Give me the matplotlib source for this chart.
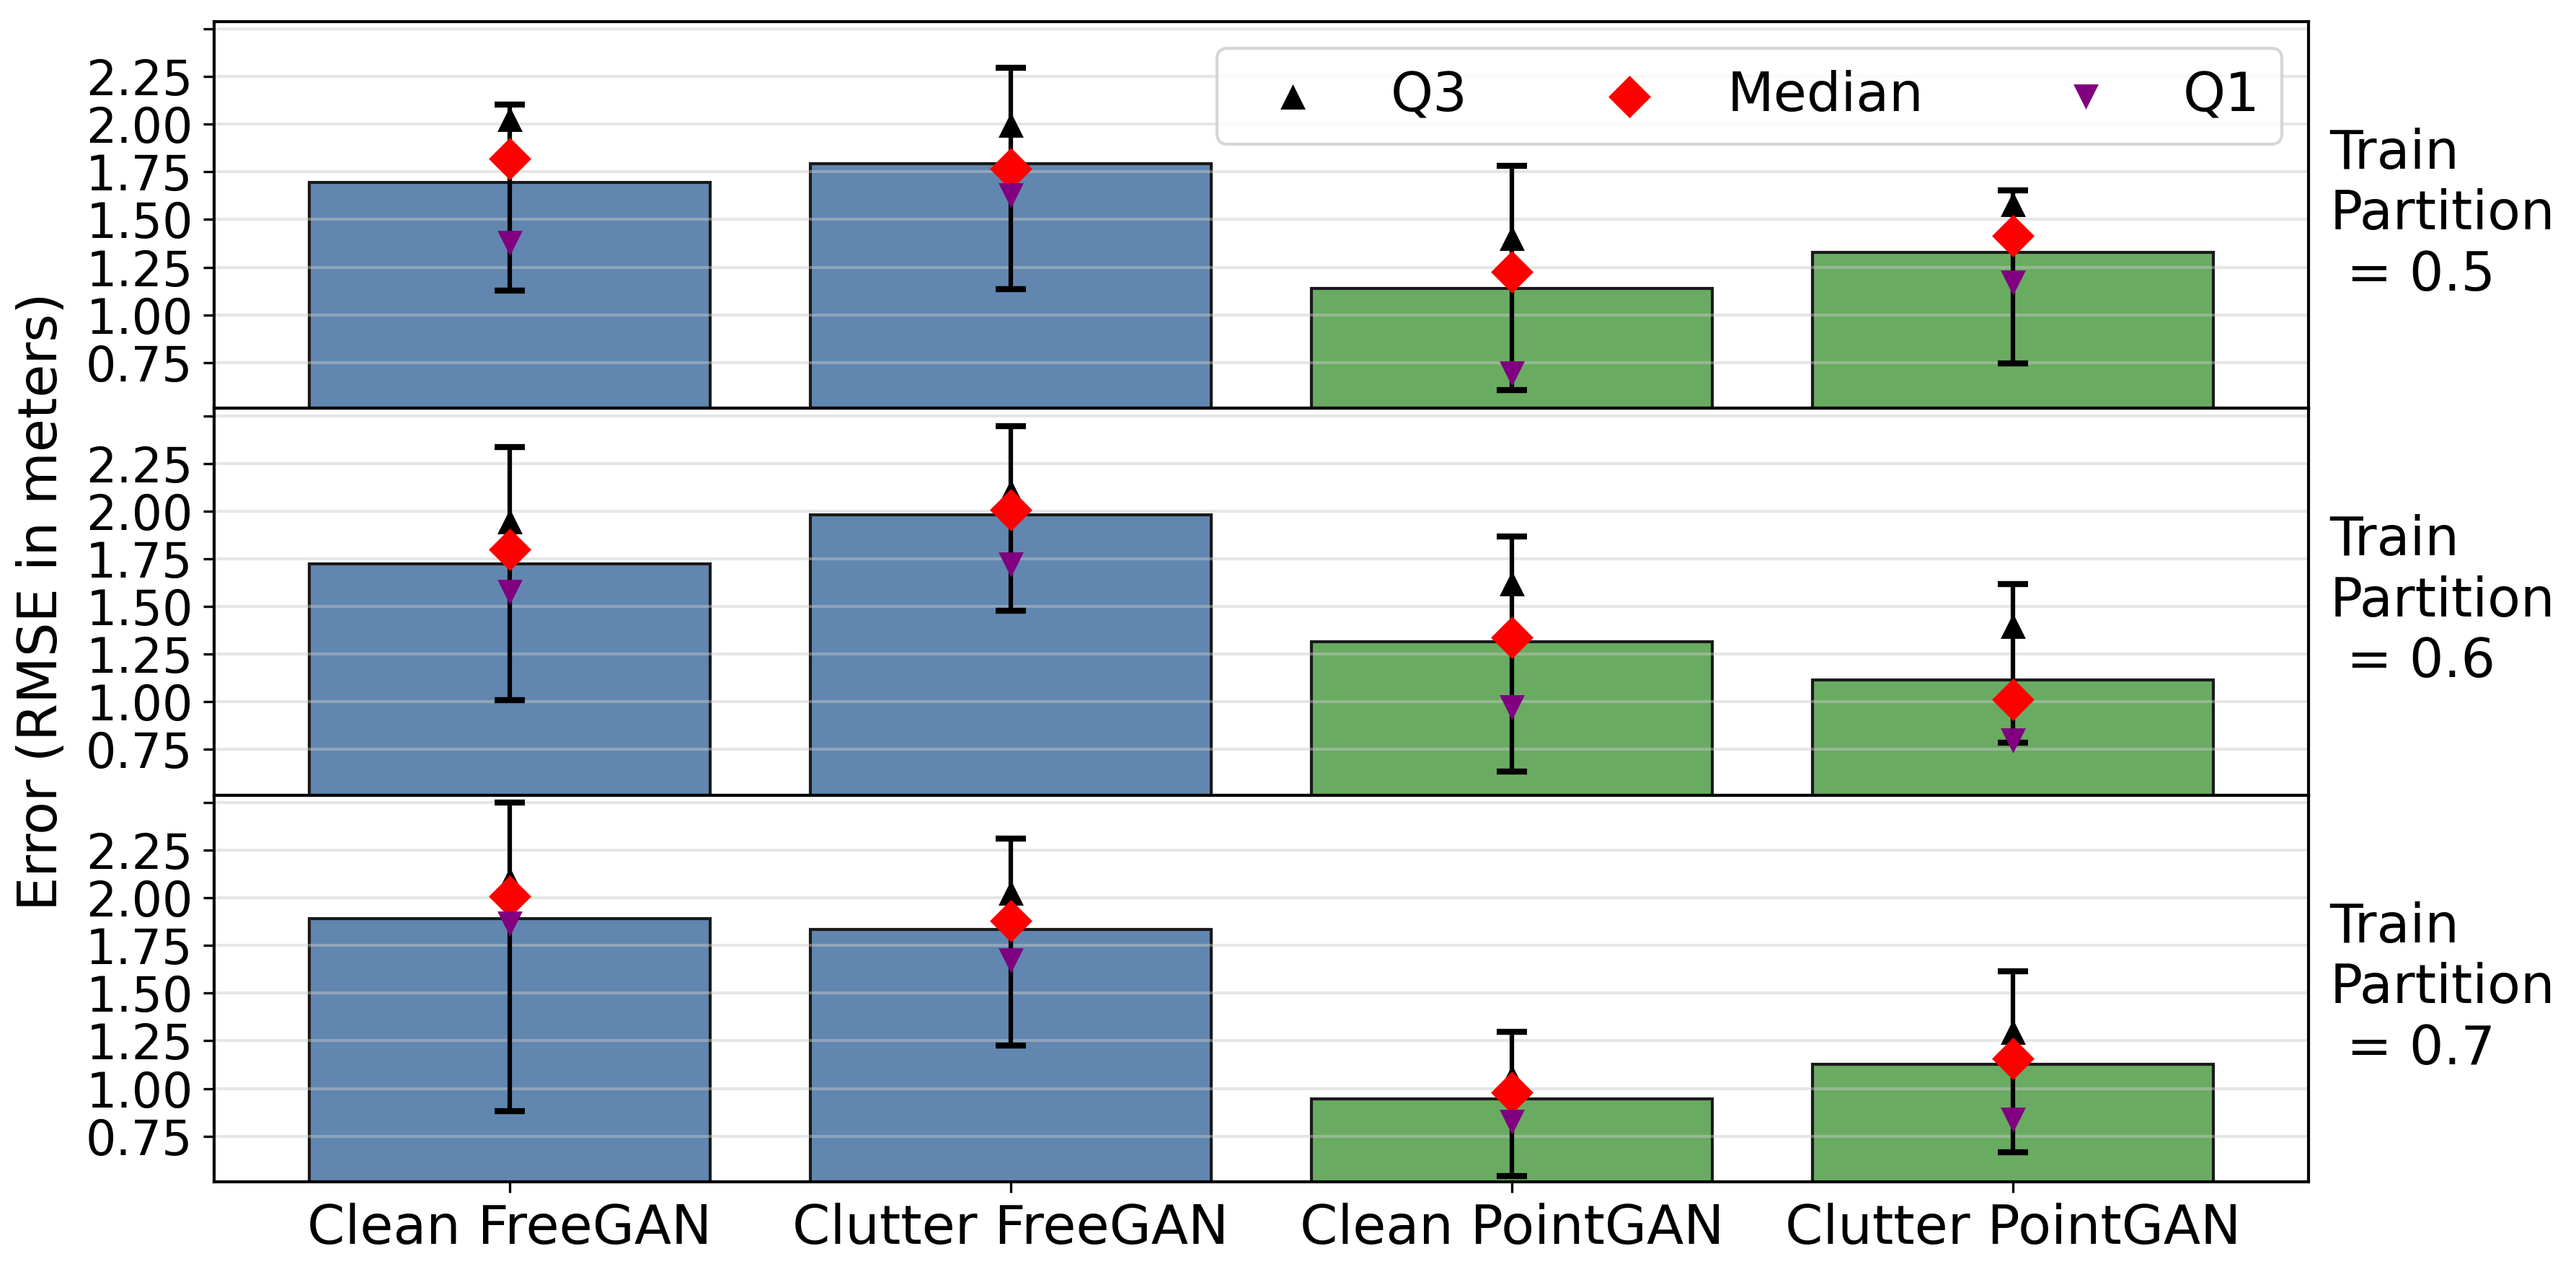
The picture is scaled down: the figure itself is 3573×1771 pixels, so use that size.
import matplotlib
matplotlib.use("Agg")
import matplotlib.pyplot as plt
import numpy as np

categories = ["Clean FreeGAN", "Clutter FreeGAN", "Clean PointGAN", "Clutter PointGAN"]
partitions = ["0.5", "0.6", "0.7"]

bar_05 = [1.693, 1.792, 1.138, 1.329]
bar_06 = [1.723, 1.979, 1.316, 1.114]
bar_07 = [1.893, 1.836, 0.945, 1.127]

err_low_05 = [1.126, 1.135, 0.605, 0.746]
err_low_06 = [1.007, 1.477, 0.632, 0.783]
err_low_07 = [0.880, 1.226, 0.542, 0.664]

err_high_05 = [2.104, 2.296, 1.782, 1.652]
err_high_06 = [2.337, 2.447, 1.867, 1.617]
err_high_07 = [2.502, 2.310, 1.299, 1.616]

q3_05 = [2.026, 1.999, 1.404, 1.582]
q3_06 = [1.948, 2.102, 1.620, 1.397]
q3_07 = [2.096, 2.026, 1.059, 1.298]

median_05 = [1.821, 1.765, 1.225, 1.413]
median_06 = [1.797, 2.008, 1.338, 1.011]
median_07 = [2.010, 1.879, 0.978, 1.156]

q1_05 = [1.375, 1.626, 0.693, 1.167]
q1_06 = [1.577, 1.718, 0.970, 0.796]
q1_07 = [1.865, 1.673, 0.826, 0.835]

yticks = [0.75, 1.00, 1.25, 1.50, 1.75, 2.00, 2.25, 2.50]
ytick_labels = ["0.75", "1.00", "1.25", "1.50", "1.75", "2.00", "2.25", ""]

bars = [bar_05, bar_06, bar_07]
lows = [err_low_05, err_low_06, err_low_07]
highs = [err_high_05, err_high_06, err_high_07]
q3s = [q3_05, q3_06, q3_07]
meds = [median_05, median_06, median_07]
q1s = [q1_05, q1_06, q1_07]

bar_colors = ["#6187B0", "#6187B0", "#6AAB62", "#6AAB62"]

fig = plt.figure(figsize=(3573 / 300, 1771 / 300), dpi=300)
axes = fig.subplots(3, 1, sharex=True)
fig.subplots_adjust(left=0.0831, right=0.8962, top=0.9833, bottom=0.0745, hspace=0)

x = np.arange(len(categories))
for i, ax in enumerate(axes):
    b = np.array(bars[i])
    lo = np.array(lows[i])
    hi = np.array(highs[i])
    ax.bar(x, b, width=0.8, color=bar_colors, edgecolor="#1a1a1a", linewidth=1.0, zorder=1)
    ax.errorbar(x, b, yerr=[b - lo, hi - b], fmt="none", ecolor="black",
                elinewidth=1.5, capsize=5, capthick=2, zorder=2)
    ax.scatter(x, q3s[i], marker="^", s=70, color="black", linewidths=0, zorder=3, label="Q3")
    ax.scatter(x, meds[i], marker="D", s=100, color="red", linewidths=0, zorder=3, label="Median")
    ax.scatter(x, q1s[i], marker="v", s=70, color="purple", linewidths=0, zorder=3, label="Q1")
    ax.set_ylim(0.51, 2.54)
    ax.set_yticks(yticks)
    ax.set_yticklabels(ytick_labels, fontsize=16)
    ax.grid(axis="y", color="#c8c8c8", alpha=0.45, linewidth=1.0, zorder=1.5)
    ax.set_axisbelow("line")
    ax.text(1.01, 0.5, "Train\nPartition\n = " + partitions[i], transform=ax.transAxes,
            va="center", ha="left", fontsize=18)
    for sp in ax.spines.values():
        sp.set_linewidth(1.0)

axes[-1].set_xticks(x)
axes[-1].set_xticklabels(categories, fontsize=18)
axes[0].legend(loc="upper right", ncol=3, fontsize=18)

fig.text(0.0164, 0.529, "Error (RMSE in meters)", rotation=90, va="center", ha="center", fontsize=18)

fig.savefig("out.png", dpi=300)
